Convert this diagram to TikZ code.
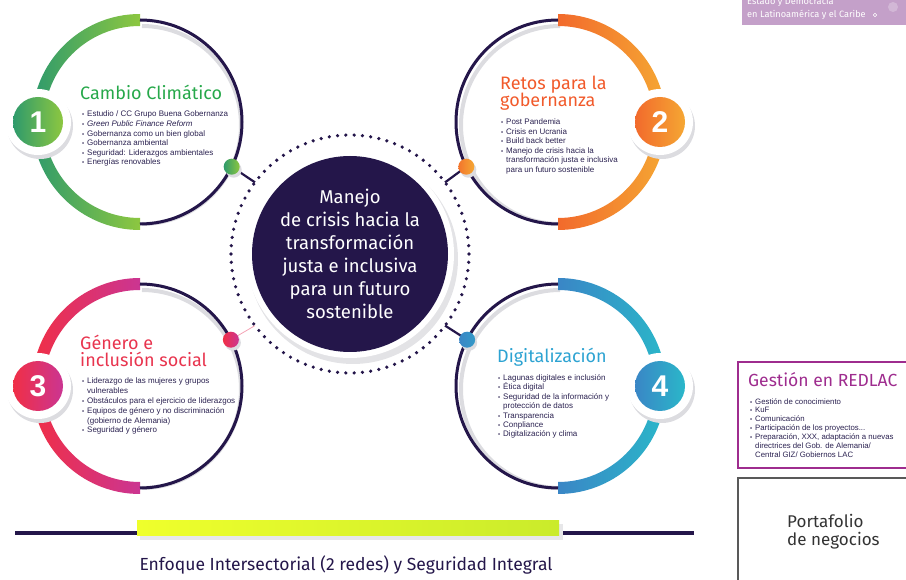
\documentclass[tikz,border=0pt]{standalone}
\usepackage{fontspec}
\setmainfont{Liberation Sans}
\newfontfamily\din{Fira Sans}
\usetikzlibrary{calc}
\definecolor{dk}{HTML}{24164A}
\definecolor{txt}{HTML}{2A2150}
\definecolor{gA}{HTML}{2E9A6C}
\definecolor{gB}{HTML}{8DC740}
\definecolor{oA}{HTML}{F26A2C}
\definecolor{oB}{HTML}{F5A733}
\definecolor{rA}{HTML}{F02F46}
\definecolor{rB}{HTML}{CB3592}
\definecolor{bA}{HTML}{3A86C6}
\definecolor{bB}{HTML}{2AB7C9}
\definecolor{gT}{HTML}{26A84A}
\definecolor{oT}{HTML}{F15A2B}
\definecolor{rT}{HTML}{E8344E}
\definecolor{bT}{HTML}{2DA3D2}
\definecolor{mg}{HTML}{9E2C8E}
\definecolor{mauve}{HTML}{C4A0C9}
\definecolor{yA}{HTML}{EFFF2C}
\definecolor{yB}{HTML}{CAEB2B}
\definecolor{shd}{HTML}{DCDCE0}
\definecolor{pinkl}{HTML}{F4A3B5}

\newcommand\bu{\makebox[5pt][l]{\fontsize{6}{6}\selectfont\textbullet}}
\newcommand\ct{\hspace*{5pt}}
\newcommand\bandarc[5]{\shade[left color=#4,right color=#5] ([shift={(#1)}]#2:108pt) arc[start angle=#2,end angle=#3,radius=108pt] -- ([shift={(#1)}]#3:96pt) arc[start angle=#3,end angle=#2,radius=96pt] -- cycle;}
\newcommand\shadearc[3]{\draw[shd,line width=4pt] ([shift={($(#1)+(2,-3)$)}]#2:99pt) arc[start angle=#2,end angle=#3,radius=99pt];}
\newcommand\darkarc[3]{\draw[dk,line width=3pt] ([shift={(#1)}]#2:102pt) arc[start angle=#2,end angle=#3,radius=102pt];}
\newcommand\halo[1]{\fill[shd] ($(#1)+(2,-4)$) circle[radius=33pt]; \fill[white] (#1) circle[radius=33pt];}

\begin{document}
\begin{tikzpicture}[x=1pt,y=1pt,
  badge/.style={circle, minimum size=50pt, inner sep=0pt, text=white, font=\bfseries\fontsize{30}{30}\selectfont},
  smalldot/.style={circle, minimum size=16pt, inner sep=0pt},
  conn/.style={dk, line width=2.2pt},
  title/.style={anchor=base west, inner sep=0pt, align=left, font=\din\fontsize{18}{17.5}\selectfont},
  blist/.style={anchor=base west, inner sep=0pt, align=left, text=txt},
  ]
\useasboundingbox (0,0) rectangle (906,579);

% centres
\coordinate (c1) at (140,457);
\coordinate (c2) at (558,457);
\coordinate (c3) at (140,193);
\coordinate (c4) at (558,193);
\coordinate (z) at (350,325);

% shadows of the dark arcs
\shadearc{c1}{-90}{90}
\shadearc{c3}{-90}{90}
\shadearc{c2}{90}{270}
\shadearc{c4}{90}{270}

% coloured half rings
\bandarc{c1}{90}{270}{gA}{gB}
\bandarc{c3}{90}{270}{rA}{rB}
\bandarc{c2}{-90}{90}{oA}{oB}
\bandarc{c4}{-90}{90}{bA}{bB}

% dark half rings
\darkarc{c1}{-90}{90}
\darkarc{c3}{-90}{90}
\darkarc{c2}{90}{270}
\darkarc{c4}{90}{270}

% badges
\coordinate (q1) at ([shift={(c1)}]180:102pt);
\coordinate (q2) at ([shift={(c2)}]0:102pt);
\coordinate (q3) at ([shift={(c3)}]180:102pt);
\coordinate (q4) at ([shift={(c4)}]0:102pt);
\halo{q1}\halo{q2}\halo{q3}\halo{q4}
\node[badge, left color=gA, right color=gB] (b1) at (q1) {1};
\node[badge, left color=oA, right color=oB] (b2) at (q2) {2};
\node[badge, left color=rA, right color=rB] (b3) at (q3) {3};
\node[badge, left color=bA, right color=bB] (b4) at (q4) {4};

% centre
\fill[shd!80] ($(z)+(3,-5)$) circle[radius=105pt];
\fill[white] (z) circle[radius=104pt];
\foreach \a in {0,4,...,356} \fill[dk] ([shift={(z)}]\a:119pt) circle[radius=1.8pt];
\node[circle, fill=dk, minimum size=196pt, inner sep=0pt, text=white, align=center,
      font=\din\fontsize{18.5}{23}\selectfont] (hub) at (z)
  {Manejo\\de crisis hacia la\\transformación\\justa e inclusiva\\para un futuro\\sostenible};

% connectors
\coordinate (p1) at ([shift={(c1)}]-26:102pt);
\coordinate (p2) at ([shift={(c2)}]206:102pt);
\coordinate (p3) at ([shift={(c3)}]27:102pt);
\coordinate (p4) at ([shift={(c4)}]153:102pt);
\coordinate (e1) at ([shift={(z)}]143:119pt);
\coordinate (e2) at ([shift={(z)}]37:119pt);
\coordinate (e3) at ([shift={(z)}]217:119pt);
\coordinate (e4) at ([shift={(z)}]-37:119pt);
\draw[conn] (p1) -- (e1);
\draw[conn] (p2) -- (e2);
\draw[pinkl, line width=0.8pt] (p3) -- (e3);
\draw[conn] (p4) -- (e4);
\foreach \p in {p1,p2,p3,p4} \fill[shd] ($(\p)+(2,-3)$) circle[radius=8pt];
\node[smalldot, left color=gA, right color=gB] (d1) at (p1) {};
\node[smalldot, left color=oA!80!oB, right color=oB] (d2) at (p2) {};
\node[smalldot, left color=rA, right color=rB] (d3) at (p3) {};
\node[smalldot, left color=bA, right color=bA!60!bB] (d4) at (p4) {};

% titles and lists (anchor = baseline of the last line)
\node[title, text=gT] (t1) at (80,479) {Cambio Climático};
\node[blist, font=\fontsize{8}{9.6}\selectfont] (l1) at (82,414) {%
\bu Estudio / CC Grupo Buena Gobernanza\\
\bu \textit{Green Public Finance Reform}\\
\bu Gobernanza como un bien global\\
\bu Gobernanza ambiental\\
\bu Seguridad: Liderazgos ambientales\\
\bu Energías renovables};

\node[title, text=oT] (t2) at (500,472) {Retos para la\\gobernanza};
\node[blist, font=\fontsize{8}{9.5}\selectfont] (l2) at (501,406.5) {%
\bu Post Pandemia\\
\bu Crisis en Ucrania\\
\bu Build back better\\
\bu Manejo de crisis hacia la\\
\ct transformación justa e inclusiva\\
\ct para un futuro sostenible};

\node[title, text=rT] (t3) at (80,212) {Género e\\inclusión social};
\node[blist, font=\fontsize{8}{9.8}\selectfont] (l3) at (82,146) {%
\bu Liderazgo de las mujeres y grupos\\
\ct vulnerables\\
\bu Obstáculos para el ejercicio de liderazgos\\
\bu Equipos de género y no discriminación\\
\ct (gobierno de Alemania)\\
\bu Seguridad y género};

\node[title, text=bT] (t4) at (497,216) {Digitalización};
\node[blist, font=\fontsize{8}{9.4}\selectfont] (l4) at (498,142) {%
\bu Lagunas digitales e inclusión\\
\bu Ética digital\\
\bu Seguridad de la información y\\
\ct protección de datos\\
\bu Transparencia\\
\bu Conpliance\\
\bu Digitalización y clima};

% right boxes
\draw[mg, line width=2pt] (738,111) rectangle (912,217);
\node[title, text=mg, font=\din\fontsize{17.5}{17.5}\selectfont] (t5) at (748,192) {Gestión en REDLAC};
\node[blist, font=\fontsize{7.8}{9}\selectfont] (l5) at (750,121) {%
\bu Gestión de conocimiento\\
\bu KuF\\
\bu Comunicación\\
\bu Participación de los proyectos...\\
\bu Preparación, XXX, adaptación a nuevas\\
\ct directrices del Gob. de Alemania/\\
\ct Central GIZ/ Gobiernos LAC};

\draw[black!65, line width=1.5pt] (738,-10) rectangle (912,101);
\node[title, text=black!80, font=\din\fontsize{17}{17}\selectfont] (t6) at (787,34) {Portafolio\\de negocios};

% top right banner
\fill[mauve] (742,554) rectangle (906,579);
\node[anchor=base west, inner sep=0pt, text=white, font=\din\fontsize{9.2}{9.2}\selectfont] (bn1) at (747,574) {Estado y Democracia};
\node[anchor=base west, inner sep=0pt, text=white, font=\din\fontsize{9.2}{9.2}\selectfont] (bn2) at (747,561) {en Latinoamérica y el Caribe};
\draw[white, line width=0.6pt] (875,564) circle[radius=1.8pt];
\fill[white, opacity=0.25] (893,572) circle[radius=5pt];

% bottom bar
\draw[dk, line width=4pt] (15,46) -- (138,46);
\draw[dk, line width=4pt] (561,46) -- (694,46);
\fill[shd!70] (140,39) rectangle (563,55);
\shade[left color=yA, right color=yB] (137,43) rectangle (559,58);
\node[anchor=base, inner sep=0pt, text=dk, font=\din\fontsize{17.5}{17.5}\selectfont] (bt) at (346,9)
  {Enfoque Intersectorial (2 redes) y Seguridad Integral};
\end{tikzpicture}
\end{document}
